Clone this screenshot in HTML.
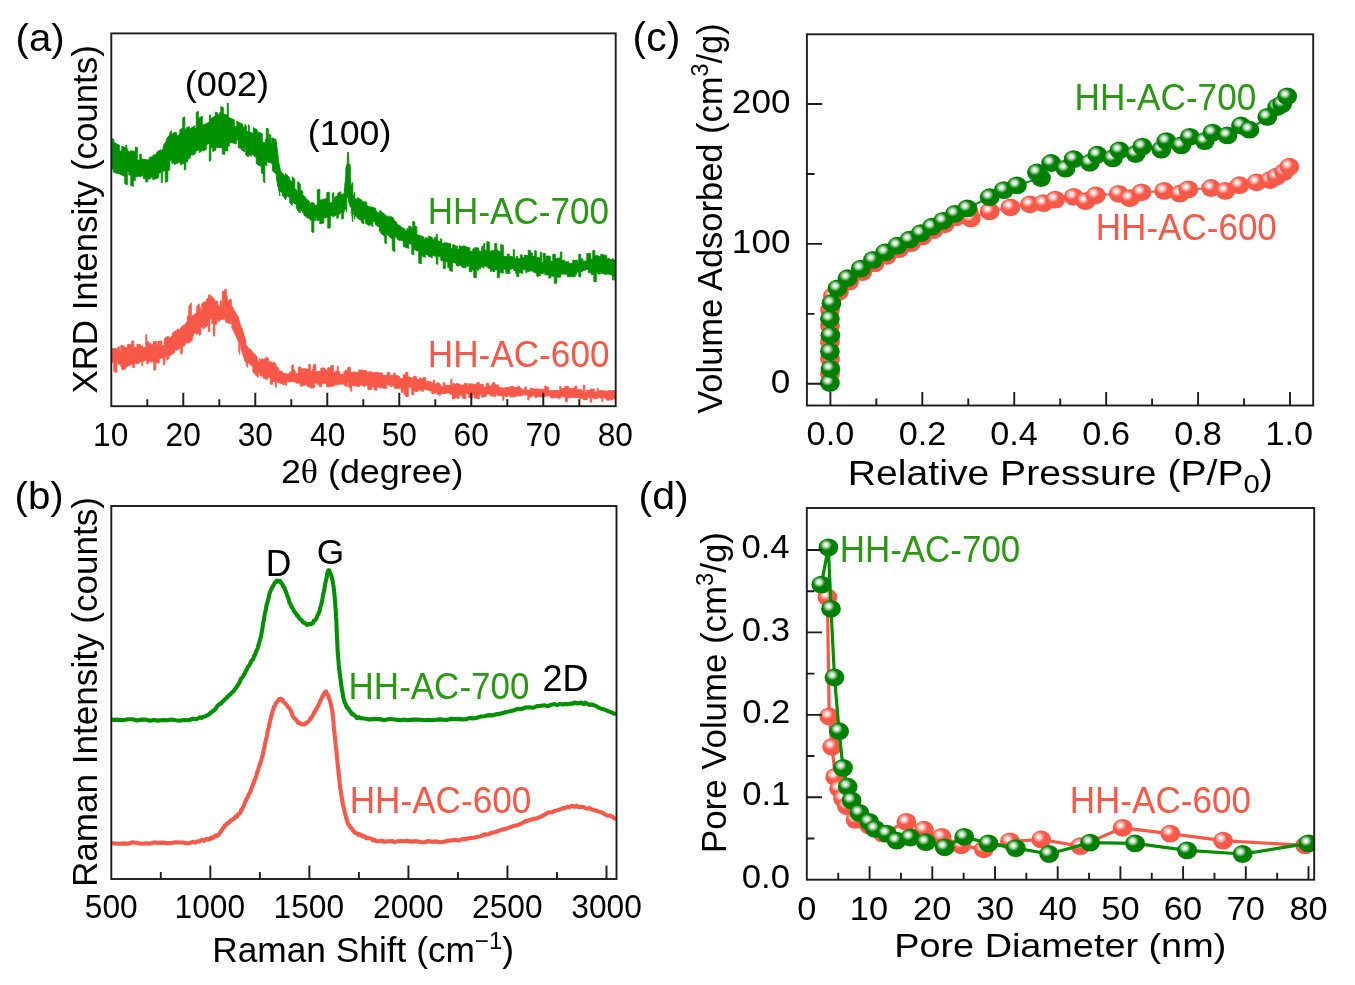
<!DOCTYPE html><html><head><meta charset="utf-8"><style>html,body{margin:0;padding:0;background:#fff;overflow:hidden}svg{display:block}</style></head><body><svg width="1355" height="985" viewBox="0 0 1355 985" style="will-change:transform"><rect width="1355" height="985" fill="#fff"/><defs>
<radialGradient id="gg" cx="0.38" cy="0.36" r="0.55">
<stop offset="0" stop-color="#fff"/><stop offset="0.12" stop-color="#f4fbf4"/><stop offset="0.3" stop-color="#9ccf9c"/><stop offset="0.55" stop-color="#008000"/><stop offset="1" stop-color="#008000"/></radialGradient>
<radialGradient id="rg" cx="0.38" cy="0.36" r="0.55">
<stop offset="0" stop-color="#fff"/><stop offset="0.12" stop-color="#fff4f2"/><stop offset="0.3" stop-color="#fbb0a8"/><stop offset="0.55" stop-color="#F85848"/><stop offset="1" stop-color="#F85848"/></radialGradient>
<clipPath id="ca"><rect x="111.3" y="33.3" width="504.4" height="372.5"/></clipPath>
<clipPath id="cb"><rect x="111.3" y="506" width="505.2" height="373"/></clipPath>
<clipPath id="cc"><rect x="806.9" y="34.3" width="506.8" height="371.1"/></clipPath>
<clipPath id="cd"><rect x="806.8" y="508" width="507.4" height="371.7"/></clipPath>
</defs><g clip-path="url(#ca)"><path d="M111.3,138.4 113.8,139.3 113.8,142.4 116.3,143.3 116.3,143.9 119.3,145.0 119.3,150.6 121.8,151.5 121.8,146.3 125.8,147.7 125.8,144.9 126.8,145.2 126.8,148.8 127.8,149.1 127.8,151.3 130.3,152.2 130.3,150.8 131.8,151.3 131.8,150.8 134.3,151.6 134.3,151.3 135.3,151.5 135.3,147.0 137.3,147.6 137.3,159.9 139.8,160.2 139.8,154.0 141.3,154.3 141.3,159.0 145.3,159.5 145.3,159.6 149.3,160.1 149.3,157.4 151.8,156.8 151.8,157.3 152.8,156.9 152.8,155.5 156.8,153.9 156.8,152.1 160.8,149.8 160.8,151.8 163.3,148.5 163.3,145.3 166.3,141.1 166.3,139.4 168.8,135.7 168.8,136.5 169.8,135.1 169.8,132.8 171.3,130.6 171.3,135.2 172.3,134.5 172.3,133.7 175.3,132.0 175.3,133.5 176.8,132.7 176.8,136.1 179.8,134.5 179.8,129.9 182.8,128.1 182.8,117.8 184.8,116.9 184.8,129.9 186.3,129.2 186.3,127.8 189.3,126.5 189.3,129.4 190.3,129.0 190.3,128.4 193.3,127.1 193.3,126.6 194.8,125.8 194.8,128.9 196.3,128.1 196.3,112.4 198.3,111.3 198.3,118.5 202.3,116.3 202.3,125.5 205.3,123.9 205.3,124.3 209.3,122.1 209.3,115.2 210.3,114.7 210.3,118.8 211.3,118.3 211.3,118.2 215.3,116.0 215.3,112.2 217.3,112.6 217.3,114.1 219.8,115.1 219.8,112.4 220.8,112.7 220.8,106.6 223.3,107.6 223.3,113.8 227.3,115.3 227.3,103.0 228.3,103.4 228.3,117.3 230.3,118.0 230.3,118.3 234.3,119.8 234.3,126.1 236.8,127.0 236.8,121.0 240.8,123.7 240.8,122.8 242.8,124.4 242.8,126.6 244.8,128.2 244.8,124.6 246.3,125.8 246.3,130.5 248.3,132.1 248.3,124.7 249.3,125.5 249.3,131.8 250.8,132.8 250.8,132.3 253.3,133.9 253.3,127.6 257.3,130.0 257.3,133.6 258.3,134.2 258.3,131.9 262.3,133.8 262.3,141.8 265.3,143.0 265.3,139.4 266.3,139.8 266.3,128.2 268.3,128.8 268.3,138.5 269.3,138.9 269.3,134.5 270.8,135.0 270.8,142.9 271.8,143.3 271.8,137.9 275.8,139.4 275.8,139.1 277.3,149.1 277.3,149.3 278.3,158.2 278.3,160.4 280.8,172.1 280.8,171.5 283.3,174.0 283.3,174.3 285.3,176.3 285.3,173.2 289.3,177.2 289.3,179.1 290.3,180.1 290.3,180.3 292.3,182.3 292.3,176.7 294.8,179.3 294.8,188.4 296.8,190.3 296.8,191.1 297.8,192.1 297.8,181.5 300.3,183.9 300.3,189.4 302.8,191.9 302.8,194.7 305.3,197.1 305.3,197.9 309.3,201.5 309.3,202.7 311.3,204.4 311.3,202.4 314.3,203.2 314.3,205.5 317.3,204.7 317.3,189.8 319.8,189.2 319.8,200.3 322.8,199.6 322.8,199.5 326.8,198.6 326.8,192.7 329.3,192.1 329.3,203.2 332.3,202.3 332.3,193.5 333.8,192.6 333.8,199.3 334.8,198.7 334.8,197.3 337.8,195.5 337.8,193.3 340.8,191.6 340.8,194.8 343.3,193.7 343.3,196.8 343.8,195.4 343.8,195.5 344.3,193.2 344.3,190.0 344.8,187.0 344.8,184.6 345.3,180.9 345.3,179.5 345.8,175.2 345.8,171.6 346.3,166.7 346.3,170.4 346.8,164.8 346.8,168.0 347.3,161.7 347.3,158.9 347.8,152.1 347.8,152.5 348.3,154.0 348.3,152.3 348.8,159.2 348.8,163.3 349.3,169.6 349.3,164.7 349.8,170.3 349.8,163.9 350.3,168.9 350.3,178.2 350.8,182.6 350.8,184.8 351.3,188.6 351.3,184.5 351.8,187.5 351.8,191.2 352.3,193.5 352.3,182.4 352.8,183.7 352.8,194.5 353.3,195.0 353.3,198.0 353.8,198.4 353.8,194.7 354.3,194.9 354.3,192.4 354.8,192.6 354.8,197.9 355.3,198.2 355.3,199.0 357.3,200.1 357.3,197.6 361.3,199.7 361.3,200.6 365.3,202.7 365.3,201.5 366.8,202.3 366.8,205.4 370.8,207.6 370.8,206.5 373.8,208.1 373.8,207.6 375.8,208.6 375.8,210.8 379.8,213.8 379.8,210.3 381.8,211.9 381.8,212.2 384.8,214.6 384.8,214.5 388.8,217.8 388.8,215.8 389.8,216.6 389.8,216.4 391.3,217.6 391.3,216.5 393.8,218.6 393.8,220.2 396.8,222.6 396.8,224.0 398.8,225.4 398.8,225.3 400.8,226.2 400.8,227.1 404.8,228.9 404.8,230.3 406.8,231.2 406.8,228.5 408.8,229.4 408.8,225.9 411.3,227.0 411.3,227.9 412.8,228.6 412.8,221.3 414.8,222.3 414.8,226.0 416.8,226.9 416.8,234.4 420.8,236.2 420.8,235.8 423.8,237.1 423.8,238.8 425.3,239.5 425.3,237.4 428.3,238.7 428.3,236.1 432.3,237.4 432.3,239.3 434.3,240.0 434.3,237.3 436.3,237.9 436.3,234.1 437.3,234.4 437.3,240.4 438.3,240.8 438.3,241.0 440.3,241.7 440.3,238.8 441.8,239.1 441.8,243.2 444.3,243.7 444.3,242.7 446.3,243.1 446.3,242.8 448.3,243.3 448.3,243.2 450.8,243.8 450.8,248.4 452.8,248.8 452.8,244.8 455.3,245.3 455.3,248.7 456.3,248.9 456.3,245.9 457.3,246.1 457.3,248.9 459.3,249.3 459.3,245.8 463.3,246.7 463.3,245.8 465.8,246.3 465.8,247.0 467.8,247.3 467.8,247.5 469.8,247.8 469.8,251.3 472.8,251.6 472.8,248.8 474.8,249.1 474.8,247.6 478.8,248.1 478.8,251.0 481.8,251.4 481.8,246.3 483.8,246.6 483.8,243.5 484.8,243.6 484.8,250.3 486.8,250.6 486.8,241.7 489.3,242.0 489.3,251.6 490.8,251.8 490.8,250.8 492.8,251.1 492.8,250.2 494.8,250.6 494.8,243.3 496.8,243.7 496.8,249.8 497.8,250.0 497.8,251.2 500.8,251.8 500.8,244.7 503.3,245.3 503.3,256.1 507.3,256.8 507.3,254.0 509.3,254.3 509.3,256.3 513.3,257.0 513.3,249.4 514.3,249.6 514.3,258.3 516.3,258.6 516.3,256.3 517.8,256.5 517.8,258.5 520.3,259.0 520.3,254.8 522.3,255.1 522.3,257.5 524.3,257.8 524.3,255.1 528.3,255.7 528.3,250.1 530.3,250.5 530.3,252.7 532.3,253.1 532.3,256.2 534.8,256.6 534.8,250.6 536.3,250.9 536.3,257.4 540.3,258.1 540.3,252.3 541.8,252.6 541.8,262.8 543.3,263.0 543.3,253.3 545.3,253.7 545.3,259.6 546.3,259.8 546.3,256.1 548.8,256.0 548.8,256.2 550.3,256.2 550.3,261.5 552.8,261.4 552.8,254.3 555.3,254.2 555.3,258.4 559.3,258.3 559.3,257.8 560.3,257.7 560.3,252.0 561.8,251.9 561.8,260.4 564.8,260.3 564.8,261.9 568.8,261.8 568.8,263.4 572.8,263.3 572.8,260.0 573.8,259.9 573.8,260.6 577.8,260.1 577.8,262.7 578.8,262.6 578.8,254.2 579.8,254.1 579.8,254.5 580.8,254.4 580.8,259.1 582.8,258.8 582.8,261.3 586.8,260.9 586.8,253.6 588.8,253.3 588.8,253.8 590.8,253.6 590.8,259.2 592.8,259.0 592.8,250.6 594.8,250.4 594.8,256.0 597.8,255.6 597.8,256.1 600.8,256.4 600.8,254.1 603.8,255.1 603.8,254.8 606.8,255.8 606.8,259.2 607.8,259.5 607.8,258.3 609.8,259.0 609.8,259.3 612.3,260.1 612.3,258.7 613.8,259.2 613.8,260.2 615.7,260.7 615.7,280.7 614.8,280.6 614.8,276.7 613.3,276.4 613.3,280.0 612.3,279.9 612.3,275.0 610.8,274.7 610.8,274.5 608.3,274.0 608.3,274.0 606.8,273.7 606.8,274.5 604.3,274.0 604.3,273.8 601.3,273.3 601.3,271.5 600.3,271.3 600.3,274.0 597.8,273.9 597.8,272.5 596.3,272.6 596.3,281.5 593.8,281.5 593.8,274.4 591.3,274.5 591.3,272.7 588.3,272.8 588.3,269.3 585.3,269.5 585.3,270.2 582.8,270.4 582.8,271.5 580.8,271.6 580.8,276.7 578.8,276.8 578.8,272.3 577.8,272.3 577.8,271.6 576.8,271.7 576.8,274.3 575.3,274.3 575.3,276.5 571.3,276.6 571.3,276.7 567.3,276.8 567.3,274.1 563.3,274.2 563.3,274.0 560.8,274.1 560.8,277.1 556.8,277.2 556.8,283.2 554.3,283.3 554.3,276.6 553.3,276.6 553.3,276.0 550.8,276.1 550.8,278.1 548.8,278.1 548.8,274.9 544.8,274.8 544.8,272.0 543.3,271.9 543.3,273.8 540.3,273.5 540.3,275.5 538.3,275.4 538.3,276.4 536.8,276.2 536.8,273.4 535.8,273.3 535.8,272.4 533.3,272.2 533.3,271.2 529.3,270.7 529.3,271.8 526.8,271.6 526.8,272.8 525.8,272.7 525.8,269.8 522.8,269.5 522.8,273.4 521.8,273.3 521.8,272.9 518.8,272.6 518.8,276.7 516.8,276.5 516.8,273.7 515.8,273.6 515.8,270.7 513.8,270.5 513.8,268.7 511.3,268.3 511.3,269.3 509.8,269.1 509.8,273.6 505.8,273.1 505.8,269.3 503.3,269.0 503.3,273.1 499.3,272.6 499.3,277.7 497.3,277.6 497.3,269.9 494.8,269.6 494.8,271.7 492.8,271.5 492.8,270.4 491.3,270.2 491.3,271.5 490.3,271.4 490.3,268.4 487.8,268.1 487.8,266.4 483.8,265.9 483.8,268.1 482.8,268.0 482.8,266.8 480.8,266.5 480.8,268.5 478.8,268.2 478.8,270.3 477.3,270.1 477.3,268.5 476.3,268.4 476.3,277.7 473.8,277.3 473.8,270.1 471.8,269.8 471.8,271.9 469.3,271.6 469.3,264.6 468.3,264.5 468.3,266.4 465.8,266.0 465.8,268.0 461.8,267.1 461.8,265.7 458.8,265.0 458.8,266.1 456.3,265.5 456.3,263.3 452.3,262.4 452.3,271.3 449.8,270.8 449.8,268.0 447.8,267.6 447.8,262.1 445.3,261.5 445.3,268.6 443.3,268.2 443.3,260.7 440.8,260.2 440.8,256.7 439.3,256.3 439.3,256.6 437.8,256.1 437.8,264.4 436.3,263.9 436.3,256.5 432.3,255.1 432.3,257.6 428.3,256.2 428.3,255.3 426.3,254.6 426.3,254.5 425.3,254.1 425.3,257.3 421.3,255.7 421.3,263.8 418.8,262.9 418.8,251.4 414.8,249.8 414.8,249.6 413.8,249.2 413.8,254.9 411.8,254.1 411.8,244.6 408.8,243.3 408.8,248.4 404.8,246.9 404.8,247.0 403.3,246.4 403.3,240.9 400.3,239.7 400.3,240.8 397.3,239.2 397.3,238.2 394.8,236.4 394.8,251.7 392.3,250.0 392.3,239.1 390.8,238.0 390.8,237.5 388.3,235.6 388.3,235.4 386.3,233.9 386.3,243.8 384.8,242.7 384.8,236.9 383.8,236.1 383.8,235.4 380.8,233.3 380.8,232.1 379.3,231.0 379.3,227.2 375.3,224.4 375.3,222.4 372.8,220.9 372.8,226.8 371.8,226.2 371.8,224.6 370.3,223.7 370.3,225.3 369.3,224.7 369.3,225.6 365.3,223.2 365.3,219.5 363.8,218.6 363.8,223.9 361.3,222.4 361.3,220.5 357.3,218.0 357.3,217.3 355.3,216.0 355.3,215.3 354.8,215.0 354.8,219.0 354.3,218.7 354.3,213.5 353.8,213.1 353.8,214.5 353.3,214.0 353.3,211.4 352.8,210.9 352.8,221.7 352.3,220.8 352.3,217.1 351.8,215.9 351.8,214.1 351.3,212.7 351.3,207.4 350.8,205.8 350.8,207.4 350.3,205.5 350.3,206.6 349.8,204.4 349.8,201.8 349.3,199.5 349.3,204.1 348.8,201.6 348.8,201.9 348.3,199.1 348.3,196.6 347.8,195.9 347.8,194.9 347.3,197.7 347.3,195.8 346.8,198.3 346.8,209.0 346.3,211.5 346.3,207.5 345.8,209.7 345.8,201.2 345.3,203.0 345.3,207.8 344.8,209.5 344.8,208.3 344.3,209.7 344.3,211.6 343.8,212.7 343.8,214.2 343.3,215.1 343.3,218.6 342.8,219.2 342.8,215.2 342.3,215.7 342.3,218.8 341.8,219.2 341.8,212.3 339.8,213.6 339.8,213.8 338.3,214.7 338.3,217.6 336.8,218.5 336.8,214.6 335.3,215.5 335.3,215.6 332.8,217.1 332.8,215.3 330.3,216.2 330.3,227.7 327.8,228.3 327.8,217.2 323.8,218.1 323.8,222.9 319.8,223.9 319.8,219.9 316.8,220.6 316.8,217.0 315.3,217.4 315.3,220.7 313.8,221.1 313.8,232.5 311.8,232.0 311.8,221.1 307.8,217.6 307.8,218.3 303.8,214.7 303.8,213.7 302.8,212.7 302.8,211.7 300.3,209.3 300.3,213.0 297.3,210.1 297.3,209.5 296.3,208.5 296.3,204.3 295.3,203.4 295.3,204.2 293.3,202.4 293.3,203.1 292.3,202.2 292.3,205.2 289.8,203.0 289.8,198.1 286.8,195.4 286.8,197.8 285.8,197.0 285.8,199.6 284.3,198.3 284.3,197.4 282.3,195.6 282.3,193.0 279.8,190.7 279.8,195.7 277.8,184.5 277.8,186.4 276.3,177.0 276.3,174.0 273.3,171.6 273.3,171.4 272.3,170.8 272.3,163.6 269.3,162.0 269.3,162.7 266.8,161.3 266.8,165.8 264.8,164.6 264.8,182.7 263.3,181.6 263.3,174.2 261.3,172.8 261.3,166.5 259.8,165.6 259.8,166.0 258.3,164.8 258.3,165.1 256.3,163.4 256.3,157.5 253.3,155.2 253.3,155.1 251.3,153.5 251.3,156.3 248.8,154.4 248.8,156.9 245.8,155.0 245.8,147.3 244.8,146.6 244.8,152.0 241.8,150.0 241.8,149.1 240.8,148.4 240.8,148.9 238.3,147.3 238.3,140.2 236.3,139.5 236.3,143.8 232.3,142.8 232.3,142.8 229.3,142.1 229.3,146.2 227.8,145.9 227.8,151.0 224.8,150.5 224.8,154.4 222.3,154.0 222.3,148.0 218.3,147.2 218.3,147.6 215.8,147.2 215.8,150.0 212.8,151.5 212.8,147.2 211.8,147.8 211.8,147.7 210.8,148.2 210.8,160.5 209.3,161.3 209.3,143.2 206.3,144.8 206.3,149.5 205.3,150.1 205.3,149.7 202.8,151.0 202.8,149.4 201.3,150.2 201.3,151.5 199.3,152.6 199.3,149.4 195.3,151.6 195.3,153.6 193.8,154.4 193.8,154.8 192.8,155.3 192.8,154.3 190.3,155.4 190.3,157.9 187.8,159.0 187.8,161.4 185.8,162.3 185.8,169.4 184.3,170.1 184.3,163.1 180.3,164.7 180.3,161.8 178.3,162.6 178.3,162.9 174.3,164.5 174.3,162.4 171.8,163.5 171.8,159.4 169.8,160.9 169.8,169.8 167.8,171.1 167.8,181.3 165.3,182.3 165.3,170.0 162.3,172.1 162.3,182.4 161.3,182.9 161.3,172.0 158.8,173.4 158.8,177.5 154.8,179.1 154.8,178.9 152.8,179.7 152.8,176.8 150.3,177.8 150.3,178.7 147.8,179.2 147.8,181.7 145.8,182.1 145.8,178.2 143.3,178.6 143.3,172.7 142.3,172.7 142.3,176.1 139.3,176.4 139.3,176.2 135.3,176.6 135.3,180.6 133.3,180.4 133.3,186.3 130.8,185.4 130.8,175.4 128.8,174.7 128.8,171.8 127.3,171.3 127.3,184.7 124.8,183.8 124.8,176.4 122.3,175.5 122.3,174.9 118.3,173.4 118.3,173.8 117.3,173.4 117.3,173.5 115.3,172.8 115.3,172.6 113.3,171.9 113.3,169.1 111.3,168.4Z" fill="#009000" stroke="#009000" stroke-width="0.9" stroke-linejoin="miter"/><path d="M111.3,348.8 113.3,348.6 113.3,348.5 115.8,348.2 115.8,349.3 117.8,349.1 117.8,347.0 118.8,346.9 118.8,347.3 119.8,347.2 119.8,351.6 120.8,351.4 120.8,345.4 122.3,345.2 122.3,346.3 124.3,346.1 124.3,347.8 127.3,347.4 127.3,344.7 130.3,344.3 130.3,344.6 131.8,344.4 131.8,341.1 133.8,340.9 133.8,347.8 136.8,347.3 136.8,344.4 138.8,344.1 138.8,344.7 140.3,344.5 140.3,346.3 142.8,345.9 142.8,347.6 145.8,347.2 145.8,334.8 146.8,334.6 146.8,342.0 148.3,341.7 148.3,343.4 150.8,343.0 150.8,344.9 153.3,344.5 153.3,341.6 156.3,341.2 156.3,344.4 157.8,344.1 157.8,341.5 161.8,340.9 161.8,345.9 164.3,345.4 164.3,338.6 168.3,336.0 168.3,338.5 172.3,335.7 172.3,333.2 176.3,330.5 176.3,330.2 178.3,328.9 178.3,331.1 180.3,328.9 180.3,328.6 183.3,324.9 183.3,326.5 187.3,321.6 187.3,316.7 188.8,314.7 188.8,306.6 191.3,302.8 191.3,317.0 192.8,315.2 192.8,315.9 196.8,312.4 196.8,305.9 199.3,303.8 199.3,308.7 200.8,307.5 200.8,311.0 201.8,310.2 201.8,303.7 204.3,301.7 204.3,302.8 206.3,301.2 206.3,299.5 208.3,297.9 208.3,294.9 210.8,295.2 210.8,296.8 212.8,297.0 212.8,298.9 214.8,299.1 214.8,301.4 217.8,301.6 217.8,305.9 220.3,306.0 220.3,300.8 221.3,300.9 221.3,305.9 222.3,305.9 222.3,291.5 224.8,291.2 224.8,289.5 226.3,289.1 226.3,296.4 227.3,296.3 227.3,300.8 228.3,300.7 228.3,300.3 230.3,300.1 230.3,298.6 231.3,300.0 231.3,305.1 233.3,308.8 233.3,309.1 234.8,311.9 234.8,311.2 237.8,316.7 237.8,315.7 241.8,329.6 241.8,328.1 245.8,340.8 245.8,344.7 249.8,349.8 249.8,348.7 250.8,349.9 250.8,349.8 254.8,354.9 254.8,354.1 255.8,355.4 255.8,355.5 257.3,357.4 257.3,359.6 259.3,362.1 259.3,358.4 261.8,360.4 261.8,358.6 264.8,360.3 264.8,358.0 266.3,358.9 266.3,357.0 268.3,358.3 268.3,362.2 269.3,362.8 269.3,361.1 273.3,363.6 273.3,361.9 275.8,363.6 275.8,366.3 278.8,368.1 278.8,370.4 282.8,372.1 282.8,373.5 285.8,373.4 285.8,374.0 289.8,373.8 289.8,372.0 291.8,371.9 291.8,365.1 293.3,364.9 293.3,369.4 294.3,369.3 294.3,371.0 295.3,370.9 295.3,373.4 298.3,373.3 298.3,367.2 300.8,366.9 300.8,368.9 304.8,368.6 304.8,368.9 308.8,369.0 308.8,364.2 310.3,364.3 310.3,371.2 312.3,371.2 312.3,369.3 313.3,369.4 313.3,364.6 315.8,364.8 315.8,371.7 316.8,371.8 316.8,371.4 320.8,371.6 320.8,368.1 321.8,368.2 321.8,367.9 324.8,368.1 324.8,369.7 326.3,369.8 326.3,370.2 327.8,370.3 327.8,367.8 330.8,367.9 330.8,365.5 333.3,365.6 333.3,372.2 335.3,372.3 335.3,371.0 337.3,371.1 337.3,366.3 338.3,366.4 338.3,371.8 339.8,371.8 339.8,374.3 343.8,374.4 343.8,371.8 345.3,371.9 345.3,370.2 347.8,370.3 347.8,367.3 350.3,367.5 350.3,372.4 352.8,372.6 352.8,371.9 356.8,372.2 356.8,372.3 358.8,372.5 358.8,369.9 362.8,370.2 362.8,370.4 366.8,370.7 366.8,372.2 368.3,372.3 368.3,371.8 372.3,372.1 372.3,372.6 375.3,372.8 375.3,372.4 377.8,372.6 377.8,372.8 379.8,373.0 379.8,372.8 382.3,373.0 382.3,375.3 386.3,375.6 386.3,375.2 387.3,375.3 387.3,372.3 389.8,372.5 389.8,375.2 393.8,375.6 393.8,373.1 395.3,373.2 395.3,375.4 396.8,375.5 396.8,375.8 399.3,376.0 399.3,378.0 403.3,378.7 403.3,374.6 405.8,375.1 405.8,372.1 407.8,372.5 407.8,376.7 409.8,377.1 409.8,377.5 413.8,378.3 413.8,376.1 416.3,376.6 416.3,379.1 419.3,379.6 419.3,378.0 423.3,378.8 423.3,377.3 425.8,377.8 425.8,381.6 427.3,381.9 427.3,381.2 431.3,381.9 431.3,383.2 432.3,383.4 432.3,382.8 433.3,383.0 433.3,380.0 434.8,380.3 434.8,384.0 436.3,384.3 436.3,383.4 437.3,383.6 437.3,382.7 439.3,383.1 439.3,384.6 440.8,384.8 440.8,386.6 443.3,386.8 443.3,382.6 444.8,382.7 444.8,385.2 446.8,385.3 446.8,385.4 450.8,385.5 450.8,379.1 451.8,379.1 451.8,386.3 452.8,386.4 452.8,383.6 454.3,383.6 454.3,384.3 456.3,384.3 456.3,383.4 457.3,383.5 457.3,383.7 459.3,383.8 459.3,384.9 460.3,384.9 460.3,384.9 464.3,385.0 464.3,383.4 467.3,383.5 467.3,385.9 468.8,385.9 468.8,383.8 472.8,383.9 472.8,384.4 476.8,384.5 476.8,382.6 479.3,382.8 479.3,384.3 483.3,384.4 483.3,387.0 486.3,387.1 486.3,383.3 488.8,383.4 488.8,385.5 489.8,385.5 489.8,386.3 491.8,386.4 491.8,384.1 492.8,384.2 492.8,382.6 494.8,382.8 494.8,384.8 498.8,385.1 498.8,387.6 502.8,387.9 502.8,388.0 505.3,388.2 505.3,387.5 507.8,387.7 507.8,387.1 510.8,387.3 510.8,386.4 513.8,386.7 513.8,388.2 514.8,388.3 514.8,387.4 517.8,387.6 517.8,386.2 519.8,386.4 519.8,388.2 521.3,388.3 521.3,389.7 524.3,390.0 524.3,388.5 525.3,388.6 525.3,386.6 526.3,386.7 526.3,390.0 527.8,390.1 527.8,390.1 530.3,390.3 530.3,388.1 532.3,388.3 532.3,388.8 535.3,389.1 535.3,388.9 538.3,389.0 538.3,389.2 542.3,389.2 542.3,389.2 544.8,389.2 544.8,385.9 545.8,385.9 545.8,386.9 548.3,386.9 548.3,390.7 552.3,390.7 552.3,390.5 556.3,390.6 556.3,390.4 557.8,390.4 557.8,390.6 559.8,390.6 559.8,386.1 560.8,386.1 560.8,388.6 564.8,388.6 564.8,386.6 566.3,386.6 566.3,386.6 568.8,386.6 568.8,388.5 570.8,388.6 570.8,388.6 573.3,388.6 573.3,387.9 574.8,387.9 574.8,386.2 575.8,386.2 575.8,386.0 576.8,386.0 576.8,389.7 579.8,389.8 579.8,389.4 581.3,389.4 581.3,391.0 583.3,391.0 583.3,385.4 584.8,385.4 584.8,392.4 586.3,392.4 586.3,390.4 588.8,390.4 588.8,390.5 590.3,390.5 590.3,389.0 594.3,389.1 594.3,391.8 597.3,391.8 597.3,388.3 598.3,388.3 598.3,390.8 600.3,390.8 600.3,390.3 601.3,390.3 601.3,390.6 603.8,390.7 603.8,391.1 607.8,391.2 607.8,390.5 611.8,390.6 611.8,390.6 615.7,390.7 615.7,398.8 615.3,398.8 615.3,398.9 613.3,398.8 613.3,398.8 612.3,398.8 612.3,400.0 610.3,399.9 610.3,398.7 609.3,398.6 609.3,400.3 606.8,400.2 606.8,398.6 604.8,398.6 604.8,397.5 602.8,397.4 602.8,401.5 601.8,401.5 601.8,398.1 599.3,398.0 599.3,397.4 597.3,397.3 597.3,398.7 593.3,398.6 593.3,397.9 591.8,397.9 591.8,402.1 590.3,402.1 590.3,397.4 587.3,397.3 587.3,399.6 583.3,399.5 583.3,398.3 581.3,398.2 581.3,398.7 579.3,398.6 579.3,397.6 576.3,397.6 576.3,397.5 575.3,397.5 575.3,397.4 573.3,397.4 573.3,397.4 571.3,397.4 571.3,397.8 567.3,397.7 567.3,401.8 565.3,401.7 565.3,396.9 563.3,396.8 563.3,396.8 560.3,396.7 560.3,398.5 559.3,398.5 559.3,397.9 556.8,397.9 556.8,397.4 553.8,397.3 553.8,398.0 550.8,398.0 550.8,395.0 549.8,395.0 549.8,395.9 548.3,395.9 548.3,395.9 545.3,395.8 545.3,397.1 544.3,397.1 544.3,397.0 540.3,396.9 540.3,396.8 539.3,396.8 539.3,396.5 536.8,396.5 536.8,397.4 534.8,397.4 534.8,395.6 531.8,395.4 531.8,397.1 528.8,397.0 528.8,400.0 527.8,400.0 527.8,395.1 525.8,395.0 525.8,394.8 523.3,394.7 523.3,395.2 521.3,395.1 521.3,396.0 517.3,395.8 517.3,395.7 516.3,395.6 516.3,396.5 513.8,396.4 513.8,397.0 509.8,396.8 509.8,395.1 507.8,395.0 507.8,396.5 504.8,396.3 504.8,395.7 503.8,395.7 503.8,400.3 502.8,400.3 502.8,395.9 498.8,395.7 498.8,395.8 497.3,395.8 497.3,394.2 495.8,394.1 495.8,396.2 491.8,396.0 491.8,396.1 490.8,396.1 490.8,394.4 489.3,394.3 489.3,393.9 486.3,393.9 486.3,396.3 484.3,396.3 484.3,397.1 481.3,397.1 481.3,394.2 479.3,394.2 479.3,398.5 476.8,398.5 476.8,397.9 474.3,397.9 474.3,395.0 472.3,395.0 472.3,398.0 471.3,398.0 471.3,397.4 468.8,397.4 468.8,393.9 466.8,393.9 466.8,393.7 465.8,393.7 465.8,398.8 463.8,398.7 463.8,398.0 462.3,397.9 462.3,395.3 460.8,395.3 460.8,395.3 458.8,395.3 458.8,398.5 457.3,398.4 457.3,396.3 456.3,396.3 456.3,398.0 454.3,398.0 454.3,398.9 452.3,398.9 452.3,394.3 450.3,394.2 450.3,393.1 446.3,393.0 446.3,393.5 442.3,393.5 442.3,393.3 440.8,393.2 440.8,395.1 437.8,394.8 437.8,392.9 434.8,392.5 434.8,393.9 431.8,393.6 431.8,391.1 428.8,390.7 428.8,390.3 427.3,390.1 427.3,389.8 423.3,389.2 423.3,391.4 421.8,391.2 421.8,390.4 417.8,389.9 417.8,391.6 413.8,391.1 413.8,394.8 411.8,394.6 411.8,387.9 410.8,387.8 410.8,387.4 408.3,387.1 408.3,396.6 405.8,396.4 405.8,394.8 404.3,394.6 404.3,389.3 403.3,389.2 403.3,392.5 401.3,392.3 401.3,388.2 399.3,388.0 399.3,388.4 396.8,388.2 396.8,388.7 394.8,388.5 394.8,387.0 393.3,386.9 393.3,385.2 391.3,385.1 391.3,386.9 390.3,386.9 390.3,385.1 386.3,384.8 386.3,388.5 383.3,388.2 383.3,387.9 380.3,387.7 380.3,387.6 379.3,387.5 379.3,386.9 376.8,386.7 376.8,390.2 374.3,390.0 374.3,387.0 371.8,386.8 371.8,389.6 367.8,389.3 367.8,385.4 365.8,385.2 365.8,385.6 364.8,385.6 364.8,386.3 362.8,386.2 362.8,384.2 361.8,384.1 361.8,385.1 359.3,384.9 359.3,386.5 356.8,386.3 356.8,386.0 352.8,385.7 352.8,385.6 351.8,385.6 351.8,391.2 350.8,391.1 350.8,387.5 348.8,387.3 348.8,381.9 347.3,381.7 347.3,386.5 346.3,386.5 346.3,385.8 344.8,385.8 344.8,384.3 343.8,384.3 343.8,384.1 341.3,384.1 341.3,384.3 337.3,384.3 337.3,384.7 334.3,384.7 334.3,386.0 331.3,386.1 331.3,386.6 327.3,386.7 327.3,386.4 326.3,386.4 326.3,383.2 322.3,383.2 322.3,384.4 321.3,384.4 321.3,386.8 319.3,386.8 319.3,384.3 317.3,384.3 317.3,383.4 315.8,383.4 315.8,383.1 314.3,383.1 314.3,387.9 310.3,387.9 310.3,386.7 307.3,386.7 307.3,384.7 305.3,384.7 305.3,385.2 302.3,385.1 302.3,386.3 300.3,386.1 300.3,383.2 297.3,382.9 297.3,383.3 296.3,383.3 296.3,382.1 293.8,382.0 293.8,381.3 290.8,381.2 290.8,381.9 286.8,381.7 286.8,385.2 285.8,385.1 285.8,382.3 284.8,382.2 284.8,384.6 282.8,384.4 282.8,383.9 280.3,383.3 280.3,383.0 276.3,381.8 276.3,387.2 275.3,387.1 275.3,381.8 273.3,381.2 273.3,382.0 272.3,381.8 272.3,384.6 270.3,384.1 270.3,378.1 267.3,377.1 267.3,379.4 263.3,378.2 263.3,375.1 262.3,374.7 262.3,376.5 260.3,375.9 260.3,374.2 258.3,372.4 258.3,377.4 254.3,373.8 254.3,373.2 252.8,371.8 252.8,366.6 251.8,365.6 251.8,366.0 247.8,362.0 247.8,367.3 246.3,365.9 246.3,362.9 244.8,360.6 244.8,361.0 240.8,348.0 240.8,345.6 239.8,342.3 239.8,354.4 238.8,351.2 238.8,342.2 234.8,333.5 234.8,333.1 231.8,327.7 231.8,321.5 230.8,319.7 230.8,323.9 228.8,323.2 228.8,322.8 226.3,322.6 226.3,321.4 225.3,321.3 225.3,319.1 222.3,319.1 222.3,319.6 219.3,320.0 219.3,321.6 218.3,321.7 218.3,319.6 216.8,319.8 216.8,324.1 214.8,324.4 214.8,335.7 213.3,336.1 213.3,323.4 211.8,323.6 211.8,318.5 209.8,318.7 209.8,331.3 208.3,331.7 208.3,325.1 204.3,327.9 204.3,328.4 203.3,329.0 203.3,326.0 200.8,327.8 200.8,334.4 199.3,335.4 199.3,332.7 196.3,334.8 196.3,332.2 193.3,334.3 193.3,336.1 192.3,336.8 192.3,340.4 188.3,343.2 188.3,341.8 185.3,343.9 185.3,345.0 182.3,347.0 182.3,353.4 180.8,354.2 180.8,346.9 179.8,347.6 179.8,348.9 178.8,349.6 178.8,348.6 176.3,350.6 176.3,349.5 174.8,350.7 174.8,352.3 172.8,354.0 172.8,353.6 168.8,356.8 168.8,358.7 166.8,360.4 166.8,355.3 164.8,356.9 164.8,364.3 163.3,365.0 163.3,357.9 159.3,358.6 159.3,362.8 157.8,363.0 157.8,362.3 155.8,362.6 155.8,369.8 153.8,370.1 153.8,361.5 150.8,362.0 150.8,361.4 148.3,361.8 148.3,363.6 146.8,363.8 146.8,360.2 144.3,360.6 144.3,360.9 142.8,361.2 142.8,365.8 141.8,366.0 141.8,361.3 139.3,361.7 139.3,363.3 136.3,363.7 136.3,363.5 134.3,363.8 134.3,367.6 132.8,367.8 132.8,364.2 129.8,364.6 129.8,365.8 128.3,366.0 128.3,365.3 127.3,365.5 127.3,366.7 125.8,366.9 125.8,369.0 124.8,369.1 124.8,369.1 121.8,369.5 121.8,366.4 120.8,366.5 120.8,363.9 117.8,364.3 117.8,362.3 116.8,362.4 116.8,372.0 114.8,372.3 114.8,370.9 113.8,371.1 113.8,362.0 111.3,362.4Z" fill="#F85848" stroke="#F85848" stroke-width="0.9"/></g><g clip-path="url(#cb)"><path d="M111.5,719.4 113.8,719.9 116.7,719.6 120.2,720.0 124.1,720.1 128.2,719.2 132.6,719.2 137.1,720.5 141.6,719.6 145.9,719.6 150.0,720.8 154.0,720.0 158.3,720.6 162.6,720.0 167.0,720.3 171.3,719.6 175.6,720.3 179.6,720.7 183.4,720.0 186.9,720.2 190.0,719.9 192.7,718.6 195.0,719.4 197.0,718.8 198.7,718.0 200.3,717.2 201.7,718.0 203.1,716.8 204.4,716.6 205.8,716.2 207.3,715.1 208.8,714.6 210.3,712.8 211.7,712.3 213.1,710.6 214.4,710.2 215.7,708.8 217.1,706.3 218.4,705.0 219.7,703.9 221.1,703.7 222.5,701.6 223.9,700.6 225.3,698.8 226.7,697.8 228.1,696.2 229.5,694.8 230.9,693.7 232.3,692.2 233.6,691.1 234.9,689.1 236.2,687.7 237.5,685.7 238.7,683.9 240.0,681.4 241.2,678.5 242.4,677.5 243.6,675.6 244.7,673.4 245.8,671.0 246.9,669.3 247.9,666.8 248.9,666.1 249.9,664.1 250.8,662.1 251.7,660.2 252.5,660.0 253.4,658.7 254.1,655.7 254.9,655.3 255.6,653.1 256.3,651.1 256.9,649.8 257.4,649.0 257.9,647.7 258.4,644.9 258.9,644.2 259.4,641.6 259.8,640.9 260.3,638.3 260.8,637.1 261.3,634.9 261.8,631.6 262.3,629.6 262.8,625.6 263.3,622.2 263.9,620.1 264.4,616.3 264.9,613.7 265.4,611.3 265.9,609.2 266.4,606.1 266.9,603.7 267.4,602.8 267.9,599.8 268.4,598.8 268.9,596.8 269.4,594.1 269.9,592.5 270.5,591.0 271.1,589.7 271.7,588.3 272.4,586.9 273.0,585.7 273.7,585.1 274.4,583.4 275.2,582.3 275.9,582.1 276.6,580.8 277.3,580.5 278.0,581.5 278.7,580.9 279.4,581.3 280.1,581.0 280.8,582.5 281.6,583.7 282.3,583.9 283.0,585.9 283.6,587.2 284.3,587.4 284.9,589.5 285.5,590.5 286.0,592.1 286.5,593.0 287.0,595.0 287.5,596.6 288.0,597.0 288.5,598.5 289.0,601.0 289.5,602.9 290.1,603.1 290.7,604.7 291.3,606.2 291.9,607.0 292.6,608.2 293.2,609.3 293.9,610.6 294.6,612.1 295.4,612.7 296.2,613.9 297.0,615.6 297.9,615.6 298.9,617.6 299.9,619.1 301.0,619.6 302.0,620.6 303.1,622.6 304.2,622.6 305.3,623.3 306.3,624.3 307.3,625.0 308.3,624.1 309.2,624.3 310.1,624.0 311.1,624.3 312.0,623.1 312.9,623.0 313.7,621.0 314.5,620.4 315.3,619.9 316.0,619.3 316.7,617.6 317.2,616.2 317.8,614.9 318.3,614.4 318.8,612.5 319.2,612.2 319.7,610.7 320.1,608.1 320.6,606.5 321.1,605.4 321.6,602.9 322.2,600.7 322.7,597.2 323.3,594.0 323.9,591.3 324.4,589.2 324.9,585.5 325.4,583.0 325.9,580.8 326.3,578.9 326.7,577.2 327.0,576.5 327.2,573.9 327.4,572.4 327.7,572.9 327.9,572.0 328.1,571.6 328.3,570.3 328.6,571.0 328.9,571.1 329.3,570.4 329.7,571.9 330.1,573.0 330.6,573.9 331.1,575.1 331.5,576.3 332.0,578.1 332.4,579.8 332.8,581.5 333.2,584.3 333.5,586.0 333.8,589.0 334.1,590.1 334.4,593.9 334.6,596.2 334.8,599.3 335.1,602.2 335.3,605.4 335.5,608.3 335.8,611.0 336.0,616.2 336.3,619.8 336.5,624.8 336.7,630.4 336.9,635.3 337.2,640.4 337.4,646.4 337.7,651.0 338.0,655.3 338.4,659.7 338.8,665.0 339.2,668.7 339.7,673.4 340.2,676.9 340.7,680.7 341.3,685.1 341.8,689.2 342.4,691.6 343.0,695.7 343.6,698.7 344.2,700.9 344.8,703.0 345.5,703.4 346.2,705.9 346.8,707.5 347.5,707.3 348.3,708.7 349.0,709.6 349.7,711.0 350.5,711.8 351.2,712.8 351.9,714.1 352.6,713.6 353.2,714.4 353.9,715.1 354.7,715.6 355.6,716.0 356.6,717.9 357.7,718.1 359.1,717.2 360.7,718.3 362.4,718.2 364.2,718.5 366.2,718.7 368.3,719.4 370.5,719.4 372.7,719.1 375.1,718.9 377.4,719.2 379.8,719.0 382.2,719.8 384.7,720.1 387.2,719.6 389.7,719.1 392.3,719.2 395.0,719.5 397.8,719.9 400.8,720.2 403.8,719.5 406.9,720.2 410.2,719.9 413.7,719.6 417.2,719.6 421.0,719.8 424.7,720.2 428.6,719.8 432.4,720.2 436.3,719.8 440.1,719.4 443.8,719.8 447.5,719.9 451.2,718.7 454.9,719.1 458.6,718.9 462.2,719.4 465.9,719.2 469.6,718.0 473.3,718.4 477.0,717.8 480.7,716.5 484.4,716.3 488.1,715.1 491.8,715.4 495.5,714.4 499.1,713.9 502.8,712.9 506.5,711.9 510.2,711.2 513.9,710.2 517.6,708.9 521.4,709.1 525.2,707.6 529.1,707.3 533.1,707.8 537.0,706.1 540.8,705.8 544.5,705.3 548.1,706.2 551.4,704.7 554.5,704.1 557.3,705.1 560.0,703.7 562.4,704.6 564.8,704.1 566.9,704.1 569.0,704.2 571.0,703.4 572.9,703.7 574.8,702.4 576.6,703.5 578.3,703.1 579.9,703.4 581.3,702.5 582.6,703.6 583.8,704.0 585.1,702.7 586.5,703.4 587.9,704.1 589.6,704.9 591.4,704.5 593.6,705.1 596.1,706.1 598.8,707.7 601.7,709.0 604.6,709.6 607.5,710.8 610.1,711.9 612.5,712.8 614.5,713.8 616.0,713.8" fill="none" stroke="#009000" stroke-width="4.1" stroke-linejoin="round"/><path d="M111.5,843.2 113.8,843.4 116.7,843.5 120.2,843.7 124.1,843.4 128.2,843.7 132.6,842.3 137.1,843.0 141.6,843.7 145.9,843.3 150.0,843.6 154.0,842.4 158.3,842.9 162.6,842.6 166.9,843.1 171.3,843.1 175.5,842.2 179.5,842.5 183.4,842.5 186.9,843.4 190.0,843.0 192.7,841.8 195.2,842.6 197.3,841.2 199.2,841.6 201.0,840.5 202.6,839.9 204.0,840.8 205.5,839.3 206.9,838.9 208.3,839.7 209.7,839.0 211.0,837.7 212.2,838.3 213.4,837.1 214.4,836.8 215.5,835.5 216.4,836.2 217.4,835.2 218.3,834.9 219.2,834.1 220.1,832.4 220.8,831.7 221.5,830.5 222.1,829.6 222.7,828.5 223.4,828.0 224.0,827.5 224.7,825.5 225.6,825.6 226.5,824.0 227.6,823.0 228.8,822.9 230.0,821.4 231.4,820.1 232.8,819.4 234.2,818.7 235.6,816.6 236.9,816.8 238.1,814.0 239.3,813.8 240.4,812.4 241.4,809.4 242.4,808.9 243.3,806.4 244.2,804.8 245.1,802.0 246.0,800.1 246.8,798.4 247.7,797.7 248.5,794.6 249.3,793.7 250.1,792.2 250.8,790.5 251.6,787.8 252.3,786.1 253.0,784.5 253.7,783.1 254.4,780.2 255.1,779.2 255.8,777.3 256.5,775.2 257.3,771.7 258.0,770.9 258.8,767.1 259.6,765.2 260.3,763.2 261.0,761.2 261.8,757.8 262.4,756.2 263.1,753.2 263.7,750.3 264.3,747.7 264.9,744.9 265.4,742.1 266.0,739.5 266.5,737.7 267.0,735.6 267.5,731.8 268.1,729.1 268.6,728.3 269.1,725.3 269.7,722.8 270.2,720.3 270.7,718.6 271.2,716.9 271.8,714.2 272.3,712.3 272.9,709.9 273.4,709.6 274.0,706.7 274.6,706.0 275.2,705.3 275.8,703.0 276.4,702.8 277.0,702.3 277.7,700.9 278.3,700.5 279.0,699.0 279.7,699.2 280.4,698.6 281.2,699.9 281.9,699.4 282.8,700.2 283.6,701.9 284.4,702.6 285.3,703.8 286.1,704.0 287.0,705.2 287.8,706.7 288.6,707.4 289.4,708.2 290.1,709.7 290.8,710.6 291.5,712.4 292.2,714.9 293.0,716.3 293.7,717.1 294.4,718.2 295.2,719.0 296.0,719.5 296.8,720.6 297.7,722.2 298.6,723.0 299.5,722.8 300.4,723.9 301.4,724.3 302.3,724.4 303.3,724.4 304.2,724.5 305.1,723.6 306.0,723.6 306.9,722.3 307.9,721.7 308.8,721.1 309.8,719.8 310.7,717.9 311.6,717.6 312.5,715.8 313.4,714.3 314.2,712.1 315.0,711.6 315.8,709.7 316.6,708.8 317.4,706.9 318.1,705.8 318.9,704.0 319.6,702.7 320.2,700.5 320.9,699.7 321.5,698.7 322.1,697.8 322.6,695.9 323.1,695.6 323.5,694.7 323.9,693.5 324.3,693.3 324.7,692.7 325.2,691.7 325.6,691.7 326.1,691.4 326.6,693.1 327.2,694.2 327.8,694.6 328.4,696.4 329.0,698.1 329.6,699.9 330.1,700.9 330.7,703.9 331.2,705.5 331.6,707.7 332.0,709.3 332.3,711.6 332.6,714.0 332.8,715.9 333.1,718.3 333.3,719.6 333.5,722.3 333.7,725.4 334.0,728.5 334.3,730.8 334.6,734.7 335.0,738.0 335.3,740.7 335.7,745.2 336.1,748.7 336.5,752.3 336.9,756.3 337.3,760.4 337.6,763.8 338.0,767.2 338.4,770.2 338.7,774.0 339.0,777.0 339.4,780.3 339.7,783.2 340.0,785.5 340.4,789.4 340.8,790.7 341.2,794.1 341.6,796.5 342.1,799.4 342.5,801.6 343.1,805.4 343.6,807.2 344.1,809.2 344.7,812.5 345.3,814.0 345.9,816.9 346.5,818.6 347.1,820.8 347.7,823.1 348.4,824.3 349.0,825.0 349.7,826.7 350.4,827.5 351.1,828.0 351.9,828.6 352.7,830.1 353.5,830.9 354.4,832.3 355.3,833.1 356.3,833.2 357.3,833.5 358.4,834.9 359.4,834.0 360.6,834.7 361.7,835.9 362.9,836.4 364.1,836.1 365.4,837.3 366.7,838.2 367.9,837.8 369.1,838.3 370.4,838.4 371.7,838.9 373.1,840.4 374.6,839.8 376.2,841.0 378.0,841.2 380.0,841.0 382.1,840.6 384.4,841.9 386.9,841.2 389.4,841.2 392.1,841.0 394.8,842.1 397.7,841.3 400.7,841.0 403.7,841.3 406.9,840.8 410.2,841.6 413.6,841.4 417.2,841.3 420.9,842.2 424.7,842.3 428.6,841.0 432.4,841.9 436.3,841.4 440.1,842.3 443.8,841.9 447.5,840.7 451.2,840.4 454.9,839.8 458.6,840.6 462.2,839.0 465.9,838.9 469.6,838.1 473.3,837.7 477.0,836.9 480.7,836.3 484.4,834.4 488.1,834.5 491.8,832.7 495.5,832.0 499.1,830.6 502.8,829.4 506.5,828.6 510.2,827.2 513.9,825.8 517.6,825.2 521.4,823.6 525.3,821.3 529.2,820.2 533.2,819.0 537.2,818.2 541.1,816.6 544.8,814.6 548.3,812.4 551.6,812.5 554.5,810.9 557.1,810.3 559.4,809.7 561.4,808.9 563.2,808.1 564.9,808.3 566.5,807.1 568.0,806.8 569.6,807.3 571.2,806.0 573.0,806.1 574.8,806.9 576.6,805.7 578.3,807.0 580.1,807.0 581.8,806.8 583.6,806.9 585.4,808.1 587.3,808.8 589.3,808.0 591.4,809.2 593.7,810.0 596.3,810.8 599.1,811.6 602.0,812.4 604.8,814.2 607.6,815.7 610.2,815.6 612.6,816.8 614.5,818.5 616.0,819.1" fill="none" stroke="#F85848" stroke-width="4.1" stroke-linejoin="round"/></g><g clip-path="url(#cc)"><path d="M830.0,374.0 830.0,359.0 830.0,342.0 830.0,326.0 830.0,310.0 833.0,296.0 839.0,291.8 849.1,281.7 862.3,272.1 874.5,263.4 886.7,255.9 898.9,249.2 910.9,243.2 922.2,236.7 933.4,230.2 944.6,224.3 956.4,217.3 968.8,211.9 970.8,218.5 989.7,211.4 1010.4,207.3 1029.9,204.3 1043.5,203.1 1055.3,199.6 1073.7,196.8 1085.5,201.2 1095.8,195.3 1118.7,193.8 1129.7,198.2 1141.5,192.3 1164.2,190.9 1179.8,193.7 1188.3,189.4 1211.1,188.0 1225.3,190.9 1239.5,185.2 1256.6,182.3 1270.0,180.0 1276.5,176.6 1284.0,172.0 1289.3,166.7" fill="none" stroke="#F85848" stroke-width="2"/><ellipse cx="830.0" cy="374.0" rx="9.9" ry="8.9" fill="url(#rg)"/><ellipse cx="830.0" cy="359.0" rx="9.9" ry="8.9" fill="url(#rg)"/><ellipse cx="830.0" cy="342.0" rx="9.9" ry="8.9" fill="url(#rg)"/><ellipse cx="830.0" cy="326.0" rx="9.9" ry="8.9" fill="url(#rg)"/><ellipse cx="830.0" cy="310.0" rx="9.9" ry="8.9" fill="url(#rg)"/><ellipse cx="833.0" cy="296.0" rx="9.9" ry="8.9" fill="url(#rg)"/><ellipse cx="839.0" cy="291.8" rx="9.9" ry="8.9" fill="url(#rg)"/><ellipse cx="849.1" cy="281.7" rx="9.9" ry="8.9" fill="url(#rg)"/><ellipse cx="862.3" cy="272.1" rx="9.9" ry="8.9" fill="url(#rg)"/><ellipse cx="874.5" cy="263.4" rx="9.9" ry="8.9" fill="url(#rg)"/><ellipse cx="886.7" cy="255.9" rx="9.9" ry="8.9" fill="url(#rg)"/><ellipse cx="898.9" cy="249.2" rx="9.9" ry="8.9" fill="url(#rg)"/><ellipse cx="910.9" cy="243.2" rx="9.9" ry="8.9" fill="url(#rg)"/><ellipse cx="922.2" cy="236.7" rx="9.9" ry="8.9" fill="url(#rg)"/><ellipse cx="933.4" cy="230.2" rx="9.9" ry="8.9" fill="url(#rg)"/><ellipse cx="944.6" cy="224.3" rx="9.9" ry="8.9" fill="url(#rg)"/><ellipse cx="956.4" cy="217.3" rx="9.9" ry="8.9" fill="url(#rg)"/><ellipse cx="968.8" cy="211.9" rx="9.9" ry="8.9" fill="url(#rg)"/><ellipse cx="970.8" cy="218.5" rx="9.9" ry="8.9" fill="url(#rg)"/><ellipse cx="989.7" cy="211.4" rx="9.9" ry="8.9" fill="url(#rg)"/><ellipse cx="1010.4" cy="207.3" rx="9.9" ry="8.9" fill="url(#rg)"/><ellipse cx="1029.9" cy="204.3" rx="9.9" ry="8.9" fill="url(#rg)"/><ellipse cx="1043.5" cy="203.1" rx="9.9" ry="8.9" fill="url(#rg)"/><ellipse cx="1055.3" cy="199.6" rx="9.9" ry="8.9" fill="url(#rg)"/><ellipse cx="1073.7" cy="196.8" rx="9.9" ry="8.9" fill="url(#rg)"/><ellipse cx="1085.5" cy="201.2" rx="9.9" ry="8.9" fill="url(#rg)"/><ellipse cx="1095.8" cy="195.3" rx="9.9" ry="8.9" fill="url(#rg)"/><ellipse cx="1118.7" cy="193.8" rx="9.9" ry="8.9" fill="url(#rg)"/><ellipse cx="1129.7" cy="198.2" rx="9.9" ry="8.9" fill="url(#rg)"/><ellipse cx="1141.5" cy="192.3" rx="9.9" ry="8.9" fill="url(#rg)"/><ellipse cx="1164.2" cy="190.9" rx="9.9" ry="8.9" fill="url(#rg)"/><ellipse cx="1179.8" cy="193.7" rx="9.9" ry="8.9" fill="url(#rg)"/><ellipse cx="1188.3" cy="189.4" rx="9.9" ry="8.9" fill="url(#rg)"/><ellipse cx="1211.1" cy="188.0" rx="9.9" ry="8.9" fill="url(#rg)"/><ellipse cx="1225.3" cy="190.9" rx="9.9" ry="8.9" fill="url(#rg)"/><ellipse cx="1239.5" cy="185.2" rx="9.9" ry="8.9" fill="url(#rg)"/><ellipse cx="1256.6" cy="182.3" rx="9.9" ry="8.9" fill="url(#rg)"/><ellipse cx="1270.0" cy="180.0" rx="9.9" ry="8.9" fill="url(#rg)"/><ellipse cx="1276.5" cy="176.6" rx="9.9" ry="8.9" fill="url(#rg)"/><ellipse cx="1284.0" cy="172.0" rx="9.9" ry="8.9" fill="url(#rg)"/><ellipse cx="1289.3" cy="166.7" rx="9.9" ry="8.9" fill="url(#rg)"/><path d="M829.9,383.0 830.4,368.8 829.9,351.6 830.4,335.2 829.9,318.8 831.4,303.2 837.5,288.3 847.6,278.2 860.8,268.6 873.0,259.9 885.2,252.4 897.4,245.7 909.4,239.7 920.7,233.2 931.9,226.7 943.1,220.8 954.9,213.8 967.3,208.4 989.7,197.2 1003.9,190.1 1016.9,185.4 1041.0,178.0 1037.0,172.4 1051.1,163.0 1065.5,168.7 1073.7,159.1 1089.9,162.8 1097.3,154.7 1112.8,158.4 1119.4,150.3 1135.6,154.0 1142.3,146.6 1161.3,149.6 1166.3,141.1 1181.2,145.4 1189.8,136.8 1204.7,141.1 1212.5,132.6 1227.4,135.4 1241.0,125.5 1249.5,129.7 1267.3,116.9 1277.2,107.0 1282.2,104.1 1287.2,96.3" fill="none" stroke="#009000" stroke-width="2"/><ellipse cx="829.9" cy="383.0" rx="9.9" ry="8.9" fill="url(#gg)"/><ellipse cx="830.4" cy="368.8" rx="9.9" ry="8.9" fill="url(#gg)"/><ellipse cx="829.9" cy="351.6" rx="9.9" ry="8.9" fill="url(#gg)"/><ellipse cx="830.4" cy="335.2" rx="9.9" ry="8.9" fill="url(#gg)"/><ellipse cx="829.9" cy="318.8" rx="9.9" ry="8.9" fill="url(#gg)"/><ellipse cx="831.4" cy="303.2" rx="9.9" ry="8.9" fill="url(#gg)"/><ellipse cx="837.5" cy="288.3" rx="9.9" ry="8.9" fill="url(#gg)"/><ellipse cx="847.6" cy="278.2" rx="9.9" ry="8.9" fill="url(#gg)"/><ellipse cx="860.8" cy="268.6" rx="9.9" ry="8.9" fill="url(#gg)"/><ellipse cx="873.0" cy="259.9" rx="9.9" ry="8.9" fill="url(#gg)"/><ellipse cx="885.2" cy="252.4" rx="9.9" ry="8.9" fill="url(#gg)"/><ellipse cx="897.4" cy="245.7" rx="9.9" ry="8.9" fill="url(#gg)"/><ellipse cx="909.4" cy="239.7" rx="9.9" ry="8.9" fill="url(#gg)"/><ellipse cx="920.7" cy="233.2" rx="9.9" ry="8.9" fill="url(#gg)"/><ellipse cx="931.9" cy="226.7" rx="9.9" ry="8.9" fill="url(#gg)"/><ellipse cx="943.1" cy="220.8" rx="9.9" ry="8.9" fill="url(#gg)"/><ellipse cx="954.9" cy="213.8" rx="9.9" ry="8.9" fill="url(#gg)"/><ellipse cx="967.3" cy="208.4" rx="9.9" ry="8.9" fill="url(#gg)"/><ellipse cx="989.7" cy="197.2" rx="9.9" ry="8.9" fill="url(#gg)"/><ellipse cx="1003.9" cy="190.1" rx="9.9" ry="8.9" fill="url(#gg)"/><ellipse cx="1016.9" cy="185.4" rx="9.9" ry="8.9" fill="url(#gg)"/><ellipse cx="1041.0" cy="178.0" rx="9.9" ry="8.9" fill="url(#gg)"/><ellipse cx="1037.0" cy="172.4" rx="9.9" ry="8.9" fill="url(#gg)"/><ellipse cx="1051.1" cy="163.0" rx="9.9" ry="8.9" fill="url(#gg)"/><ellipse cx="1065.5" cy="168.7" rx="9.9" ry="8.9" fill="url(#gg)"/><ellipse cx="1073.7" cy="159.1" rx="9.9" ry="8.9" fill="url(#gg)"/><ellipse cx="1089.9" cy="162.8" rx="9.9" ry="8.9" fill="url(#gg)"/><ellipse cx="1097.3" cy="154.7" rx="9.9" ry="8.9" fill="url(#gg)"/><ellipse cx="1112.8" cy="158.4" rx="9.9" ry="8.9" fill="url(#gg)"/><ellipse cx="1119.4" cy="150.3" rx="9.9" ry="8.9" fill="url(#gg)"/><ellipse cx="1135.6" cy="154.0" rx="9.9" ry="8.9" fill="url(#gg)"/><ellipse cx="1142.3" cy="146.6" rx="9.9" ry="8.9" fill="url(#gg)"/><ellipse cx="1161.3" cy="149.6" rx="9.9" ry="8.9" fill="url(#gg)"/><ellipse cx="1166.3" cy="141.1" rx="9.9" ry="8.9" fill="url(#gg)"/><ellipse cx="1181.2" cy="145.4" rx="9.9" ry="8.9" fill="url(#gg)"/><ellipse cx="1189.8" cy="136.8" rx="9.9" ry="8.9" fill="url(#gg)"/><ellipse cx="1204.7" cy="141.1" rx="9.9" ry="8.9" fill="url(#gg)"/><ellipse cx="1212.5" cy="132.6" rx="9.9" ry="8.9" fill="url(#gg)"/><ellipse cx="1227.4" cy="135.4" rx="9.9" ry="8.9" fill="url(#gg)"/><ellipse cx="1241.0" cy="125.5" rx="9.9" ry="8.9" fill="url(#gg)"/><ellipse cx="1249.5" cy="129.7" rx="9.9" ry="8.9" fill="url(#gg)"/><ellipse cx="1267.3" cy="116.9" rx="9.9" ry="8.9" fill="url(#gg)"/><ellipse cx="1277.2" cy="107.0" rx="9.9" ry="8.9" fill="url(#gg)"/><ellipse cx="1282.2" cy="104.1" rx="9.9" ry="8.9" fill="url(#gg)"/><ellipse cx="1287.2" cy="96.3" rx="9.9" ry="8.9" fill="url(#gg)"/></g><g clip-path="url(#cd)"><path d="M827.4,597.2 829.2,716.4 832.1,746.8 835.2,776.9 839.1,788.7 843.0,798.4 846.9,806.3 855.5,819.9 869.2,825.8 882.9,833.6 906.4,821.9 924.0,829.7 941.6,836.8 961.1,845.3 983.8,849.3 1010.0,841.4 1041.2,839.5 1080.3,846.1 1122.6,827.8 1170.3,833.6 1223.1,840.7 1305.2,845.4" fill="none" stroke="#F85848" stroke-width="3.2" stroke-linejoin="round"/><ellipse cx="827.4" cy="597.2" rx="9.9" ry="8.9" fill="url(#rg)"/><ellipse cx="829.2" cy="716.4" rx="9.9" ry="8.9" fill="url(#rg)"/><ellipse cx="832.1" cy="746.8" rx="9.9" ry="8.9" fill="url(#rg)"/><ellipse cx="835.2" cy="776.9" rx="9.9" ry="8.9" fill="url(#rg)"/><ellipse cx="839.1" cy="788.7" rx="9.9" ry="8.9" fill="url(#rg)"/><ellipse cx="843.0" cy="798.4" rx="9.9" ry="8.9" fill="url(#rg)"/><ellipse cx="846.9" cy="806.3" rx="9.9" ry="8.9" fill="url(#rg)"/><ellipse cx="855.5" cy="819.9" rx="9.9" ry="8.9" fill="url(#rg)"/><ellipse cx="869.2" cy="825.8" rx="9.9" ry="8.9" fill="url(#rg)"/><ellipse cx="882.9" cy="833.6" rx="9.9" ry="8.9" fill="url(#rg)"/><ellipse cx="906.4" cy="821.9" rx="9.9" ry="8.9" fill="url(#rg)"/><ellipse cx="924.0" cy="829.7" rx="9.9" ry="8.9" fill="url(#rg)"/><ellipse cx="941.6" cy="836.8" rx="9.9" ry="8.9" fill="url(#rg)"/><ellipse cx="961.1" cy="845.3" rx="9.9" ry="8.9" fill="url(#rg)"/><ellipse cx="983.8" cy="849.3" rx="9.9" ry="8.9" fill="url(#rg)"/><ellipse cx="1010.0" cy="841.4" rx="9.9" ry="8.9" fill="url(#rg)"/><ellipse cx="1041.2" cy="839.5" rx="9.9" ry="8.9" fill="url(#rg)"/><ellipse cx="1080.3" cy="846.1" rx="9.9" ry="8.9" fill="url(#rg)"/><ellipse cx="1122.6" cy="827.8" rx="9.9" ry="8.9" fill="url(#rg)"/><ellipse cx="1170.3" cy="833.6" rx="9.9" ry="8.9" fill="url(#rg)"/><ellipse cx="1223.1" cy="840.7" rx="9.9" ry="8.9" fill="url(#rg)"/><ellipse cx="1305.2" cy="845.4" rx="9.9" ry="8.9" fill="url(#rg)"/><path d="M821.3,584.6 828.4,547.4 831.0,608.8 834.5,677.5 839.1,731.2 843.0,767.9 847.7,786.7 851.6,800.4 859.4,812.9 869.2,821.9 875.1,828.9 886.8,833.6 896.6,840.7 910.3,837.5 925.9,842.2 944.7,847.3 964.2,836.8 988.5,843.4 1015.8,848.1 1049.1,854.0 1090.1,842.6 1135.1,843.4 1187.1,850.4 1242.6,854.0 1308.3,843.4" fill="none" stroke="#009000" stroke-width="3.2" stroke-linejoin="round"/><ellipse cx="821.3" cy="584.6" rx="9.9" ry="8.9" fill="url(#gg)"/><ellipse cx="828.4" cy="547.4" rx="9.9" ry="8.9" fill="url(#gg)"/><ellipse cx="831.0" cy="608.8" rx="9.9" ry="8.9" fill="url(#gg)"/><ellipse cx="834.5" cy="677.5" rx="9.9" ry="8.9" fill="url(#gg)"/><ellipse cx="839.1" cy="731.2" rx="9.9" ry="8.9" fill="url(#gg)"/><ellipse cx="843.0" cy="767.9" rx="9.9" ry="8.9" fill="url(#gg)"/><ellipse cx="847.7" cy="786.7" rx="9.9" ry="8.9" fill="url(#gg)"/><ellipse cx="851.6" cy="800.4" rx="9.9" ry="8.9" fill="url(#gg)"/><ellipse cx="859.4" cy="812.9" rx="9.9" ry="8.9" fill="url(#gg)"/><ellipse cx="869.2" cy="821.9" rx="9.9" ry="8.9" fill="url(#gg)"/><ellipse cx="875.1" cy="828.9" rx="9.9" ry="8.9" fill="url(#gg)"/><ellipse cx="886.8" cy="833.6" rx="9.9" ry="8.9" fill="url(#gg)"/><ellipse cx="896.6" cy="840.7" rx="9.9" ry="8.9" fill="url(#gg)"/><ellipse cx="910.3" cy="837.5" rx="9.9" ry="8.9" fill="url(#gg)"/><ellipse cx="925.9" cy="842.2" rx="9.9" ry="8.9" fill="url(#gg)"/><ellipse cx="944.7" cy="847.3" rx="9.9" ry="8.9" fill="url(#gg)"/><ellipse cx="964.2" cy="836.8" rx="9.9" ry="8.9" fill="url(#gg)"/><ellipse cx="988.5" cy="843.4" rx="9.9" ry="8.9" fill="url(#gg)"/><ellipse cx="1015.8" cy="848.1" rx="9.9" ry="8.9" fill="url(#gg)"/><ellipse cx="1049.1" cy="854.0" rx="9.9" ry="8.9" fill="url(#gg)"/><ellipse cx="1090.1" cy="842.6" rx="9.9" ry="8.9" fill="url(#gg)"/><ellipse cx="1135.1" cy="843.4" rx="9.9" ry="8.9" fill="url(#gg)"/><ellipse cx="1187.1" cy="850.4" rx="9.9" ry="8.9" fill="url(#gg)"/><ellipse cx="1242.6" cy="854.0" rx="9.9" ry="8.9" fill="url(#gg)"/><ellipse cx="1308.3" cy="843.4" rx="9.9" ry="8.9" fill="url(#gg)"/></g><rect x="111.3" y="33.4" width="504.40" height="372.80" fill="none" stroke="#1c1c1c" stroke-width="1.9"/><rect x="111.3" y="506.0" width="505.20" height="373.00" fill="none" stroke="#1c1c1c" stroke-width="1.9"/><rect x="806.9" y="34.3" width="506.30" height="371.20" fill="none" stroke="#1c1c1c" stroke-width="1.9"/><rect x="806.8" y="508.0" width="507.40" height="371.70" fill="none" stroke="#1c1c1c" stroke-width="1.9"/><path d="M147.30,406.2V399.20M183.30,406.2V392.70M219.30,406.2V399.20M255.30,406.2V392.70M291.30,406.2V399.20M327.30,406.2V392.70M363.30,406.2V399.20M399.30,406.2V392.70M435.30,406.2V399.20M471.30,406.2V392.70M507.30,406.2V399.20M543.30,406.2V392.70M579.30,406.2V399.20M160.82,879.0V872.00M210.34,879.0V865.50M259.86,879.0V872.00M309.38,879.0V865.50M358.90,879.0V872.00M408.42,879.0V865.50M457.94,879.0V872.00M507.46,879.0V865.50M556.98,879.0V872.00M606.50,879.0V865.50M830.40,405.4V391.90M876.36,405.4V398.40M922.32,405.4V391.90M968.28,405.4V398.40M1014.24,405.4V391.90M1060.20,405.4V398.40M1106.16,405.4V391.90M1152.12,405.4V398.40M1198.08,405.4V391.90M1244.04,405.4V398.40M1290.00,405.4V391.90M806.9,383.80H822.10M806.9,313.85H814.50M806.9,243.90H822.10M806.9,173.95H814.50M806.9,104.00H822.10M838.25,879.7V872.70M869.60,879.7V866.20M900.95,879.7V872.70M932.30,879.7V866.20M963.65,879.7V872.70M995.00,879.7V866.20M1026.35,879.7V872.70M1057.70,879.7V866.20M1089.05,879.7V872.70M1120.40,879.7V866.20M1151.75,879.7V872.70M1183.10,879.7V866.20M1214.45,879.7V872.70M1245.80,879.7V866.20M1277.15,879.7V872.70M1308.50,879.7V866.20M806.8,838.49H814.40M806.8,797.28H822.00M806.8,756.06H814.40M806.8,714.85H822.00M806.8,673.64H814.40M806.8,632.42H822.00M806.8,591.21H814.40M806.8,550.00H822.00" stroke="#1c1c1c" stroke-width="1.9" fill="none"/><text transform="translate(15.59,51.46) scale(0.4018,0.3926)" font-family="Liberation Sans" font-size="100" fill="#000">(a)</text><text transform="translate(14.58,508.81) scale(0.4027,0.3851)" font-family="Liberation Sans" font-size="100" fill="#000">(b)</text><text transform="translate(632.54,50.81) scale(0.4096,0.4043)" font-family="Liberation Sans" font-size="100" fill="#000">(c)</text><text transform="translate(638.53,509.27) scale(0.4109,0.3872)" font-family="Liberation Sans" font-size="100" fill="#000">(d)</text><text transform="translate(184.83,96.47) scale(0.3611,0.3489)" font-family="Liberation Sans" font-size="100" fill="#000">(002)</text><text transform="translate(307.86,145.11) scale(0.3575,0.3521)" font-family="Liberation Sans" font-size="100" fill="#000">(100)</text><text transform="translate(265.77,575.80) scale(0.3542,0.3610)" font-family="Liberation Sans" font-size="100" fill="#000">D</text><text transform="translate(316.64,563.90) scale(0.3523,0.3580)" font-family="Liberation Sans" font-size="100" fill="#000">G</text><text transform="translate(542.50,690.60) scale(0.3593,0.3620)" font-family="Liberation Sans" font-size="100" fill="#000">2D</text><text transform="translate(427.79,223.60) scale(0.3507,0.3650)" font-family="Liberation Sans" font-size="100" fill="#2A9812">HH-AC-700</text><text transform="translate(427.79,366.70) scale(0.3517,0.3650)" font-family="Liberation Sans" font-size="100" fill="#F85848">HH-AC-600</text><text transform="translate(348.60,699.10) scale(0.3499,0.3650)" font-family="Liberation Sans" font-size="100" fill="#2A9812">HH-AC-700</text><text transform="translate(349.69,813.20) scale(0.3515,0.3650)" font-family="Liberation Sans" font-size="100" fill="#F85848">HH-AC-600</text><text transform="translate(1074.59,109.50) scale(0.3517,0.3650)" font-family="Liberation Sans" font-size="100" fill="#2A9812">HH-AC-700</text><text transform="translate(1095.80,239.90) scale(0.3505,0.3650)" font-family="Liberation Sans" font-size="100" fill="#F85848">HH-AC-600</text><text transform="translate(839.70,561.60) scale(0.3495,0.3650)" font-family="Liberation Sans" font-size="100" fill="#2A9812">HH-AC-700</text><text transform="translate(1069.69,812.80) scale(0.3507,0.3650)" font-family="Liberation Sans" font-size="100" fill="#F85848">HH-AC-600</text><text transform="translate(280.91,483.32) scale(0.3586,0.3372)" font-family="Liberation Sans" font-size="100" fill="#000">2<tspan font-family="Liberation Serif">θ</tspan> (degree)</text><text transform="translate(212.28,962.20) scale(0.3528,0.3520)" font-family="Liberation Sans" font-size="100" fill="#000">Raman Shift (cm<tspan font-size="68" dy="-38">−1</tspan><tspan dy="38">)</tspan></text><text transform="translate(847.87,485.43) scale(0.3912,0.3552)" font-family="Liberation Sans" font-size="100" fill="#000">Relative Pressure (P/P<tspan font-size="75" dy="22">0</tspan><tspan dy="-22">)</tspan></text><text transform="translate(894.27,957.17) scale(0.3782,0.3394)" font-family="Liberation Sans" font-size="100" fill="#000">Pore Diameter (nm)</text><text transform="translate(97.10,393.54) rotate(-90) scale(0.3482,0.3500)" font-family="Liberation Sans" font-size="100" fill="#000">XRD Intensity (counts)</text><text transform="translate(97.10,887.11) rotate(-90) scale(0.3510,0.3500)" font-family="Liberation Sans" font-size="100" fill="#000">Raman Intensity (counts)</text><text transform="translate(721.50,413.74) rotate(-90) scale(0.3448,0.3500)" font-family="Liberation Sans" font-size="100" fill="#000">Volume Adsorbed (cm<tspan font-size="68" dy="-38">3</tspan><tspan dy="38">/g)</tspan></text><text transform="translate(726.00,852.99) rotate(-90) scale(0.3482,0.3500)" font-family="Liberation Sans" font-size="100" fill="#000">Pore Volume (cm<tspan font-size="68" dy="-38">3</tspan><tspan dy="38">/g)</tspan></text><text transform="translate(93.07,445.70) scale(0.3171,0.3320)" font-family="Liberation Sans" font-size="100" fill="#000">10</text><text transform="translate(165.54,445.70) scale(0.3171,0.3320)" font-family="Liberation Sans" font-size="100" fill="#000">20</text><text transform="translate(237.70,445.70) scale(0.3171,0.3320)" font-family="Liberation Sans" font-size="100" fill="#000">30</text><text transform="translate(310.02,445.70) scale(0.3171,0.3320)" font-family="Liberation Sans" font-size="100" fill="#000">40</text><text transform="translate(381.70,445.70) scale(0.3171,0.3320)" font-family="Liberation Sans" font-size="100" fill="#000">50</text><text transform="translate(453.54,445.70) scale(0.3171,0.3320)" font-family="Liberation Sans" font-size="100" fill="#000">60</text><text transform="translate(525.54,445.70) scale(0.3171,0.3320)" font-family="Liberation Sans" font-size="100" fill="#000">70</text><text transform="translate(597.70,445.70) scale(0.3171,0.3320)" font-family="Liberation Sans" font-size="100" fill="#000">80</text><text transform="translate(84.81,917.80) scale(0.3172,0.3270)" font-family="Liberation Sans" font-size="100" fill="#000">500</text><text transform="translate(174.50,917.80) scale(0.3172,0.3270)" font-family="Liberation Sans" font-size="100" fill="#000">1000</text><text transform="translate(273.54,917.80) scale(0.3172,0.3270)" font-family="Liberation Sans" font-size="100" fill="#000">1500</text><text transform="translate(373.05,917.80) scale(0.3172,0.3270)" font-family="Liberation Sans" font-size="100" fill="#000">2000</text><text transform="translate(472.09,917.80) scale(0.3172,0.3270)" font-family="Liberation Sans" font-size="100" fill="#000">2500</text><text transform="translate(571.29,917.80) scale(0.3172,0.3270)" font-family="Liberation Sans" font-size="100" fill="#000">3000</text><text transform="translate(806.60,444.50) scale(0.3424,0.3230)" font-family="Liberation Sans" font-size="100" fill="#000">0.0</text><text transform="translate(898.70,444.50) scale(0.3424,0.3230)" font-family="Liberation Sans" font-size="100" fill="#000">0.2</text><text transform="translate(990.27,444.50) scale(0.3424,0.3230)" font-family="Liberation Sans" font-size="100" fill="#000">0.4</text><text transform="translate(1082.36,444.50) scale(0.3424,0.3230)" font-family="Liberation Sans" font-size="100" fill="#000">0.6</text><text transform="translate(1174.28,444.50) scale(0.3424,0.3230)" font-family="Liberation Sans" font-size="100" fill="#000">0.8</text><text transform="translate(1265.52,444.50) scale(0.3424,0.3230)" font-family="Liberation Sans" font-size="100" fill="#000">1.0</text><text transform="translate(770.84,393.00) scale(0.3512,0.3270)" font-family="Liberation Sans" font-size="100" fill="#000">0</text><text transform="translate(731.85,253.10) scale(0.3512,0.3270)" font-family="Liberation Sans" font-size="100" fill="#000">100</text><text transform="translate(731.85,113.20) scale(0.3512,0.3270)" font-family="Liberation Sans" font-size="100" fill="#000">200</text><text transform="translate(797.27,919.50) scale(0.3440,0.3230)" font-family="Liberation Sans" font-size="100" fill="#000">0</text><text transform="translate(849.82,919.50) scale(0.3440,0.3230)" font-family="Liberation Sans" font-size="100" fill="#000">10</text><text transform="translate(913.04,919.50) scale(0.3440,0.3230)" font-family="Liberation Sans" font-size="100" fill="#000">20</text><text transform="translate(975.91,919.50) scale(0.3440,0.3230)" font-family="Liberation Sans" font-size="100" fill="#000">30</text><text transform="translate(1038.95,919.50) scale(0.3440,0.3230)" font-family="Liberation Sans" font-size="100" fill="#000">40</text><text transform="translate(1101.31,919.50) scale(0.3440,0.3230)" font-family="Liberation Sans" font-size="100" fill="#000">50</text><text transform="translate(1163.84,919.50) scale(0.3440,0.3230)" font-family="Liberation Sans" font-size="100" fill="#000">60</text><text transform="translate(1226.54,919.50) scale(0.3440,0.3230)" font-family="Liberation Sans" font-size="100" fill="#000">70</text><text transform="translate(1289.41,919.50) scale(0.3440,0.3230)" font-family="Liberation Sans" font-size="100" fill="#000">80</text><text transform="translate(741.80,887.90) scale(0.3467,0.3240)" font-family="Liberation Sans" font-size="100" fill="#000">0.0</text><text transform="translate(742.14,805.48) scale(0.3467,0.3240)" font-family="Liberation Sans" font-size="100" fill="#000">0.1</text><text transform="translate(742.14,723.05) scale(0.3467,0.3240)" font-family="Liberation Sans" font-size="100" fill="#000">0.2</text><text transform="translate(741.80,640.62) scale(0.3467,0.3240)" font-family="Liberation Sans" font-size="100" fill="#000">0.3</text><text transform="translate(741.45,558.20) scale(0.3467,0.3240)" font-family="Liberation Sans" font-size="100" fill="#000">0.4</text></svg></body></html>
